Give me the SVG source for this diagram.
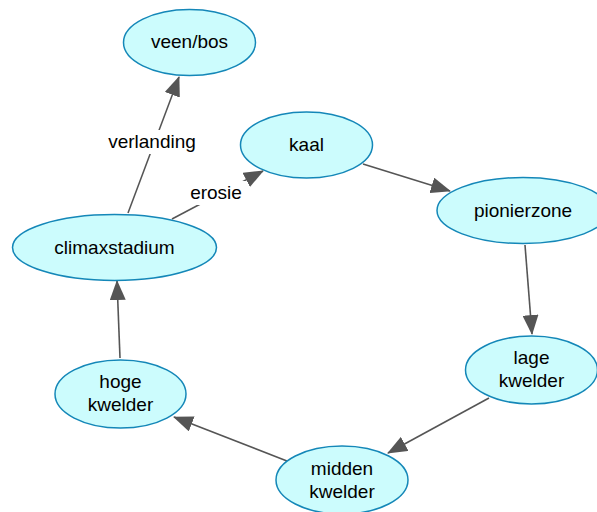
<svg xmlns="http://www.w3.org/2000/svg" width="597" height="512" viewBox="0 0 597 512">
  <style>
    .node ellipse { fill: #ccfcfd; stroke: #1487b8; stroke-width: 1.5; }
    .node text, .label { font-family: "Liberation Sans", Arial, sans-serif; font-size: 19px; fill: #000; text-anchor: middle; }
    .edge { stroke: #555; stroke-width: 1.6; fill: none; }
    .lbg { fill: #fff; }
  </style>
  <defs>
    <marker id="arrow" viewBox="0 0 20 16" refX="19" refY="8" markerWidth="20" markerHeight="16" markerUnits="userSpaceOnUse" orient="auto">
      <path d="M0,0 L20,8 L0,16 Z" fill="#555"/>
    </marker>
  </defs>
  <rect width="597" height="512" fill="#fff"/>

  <g id="connectors">
    <line class="edge" x1="128" y1="213" x2="179" y2="77" marker-end="url(#arrow)"/>
    <line class="edge" x1="172" y1="219" x2="263" y2="171" marker-end="url(#arrow)"/>
    <line class="edge" x1="363" y1="164" x2="450" y2="191" marker-end="url(#arrow)"/>
    <line class="edge" x1="525" y1="245" x2="532" y2="334" marker-end="url(#arrow)"/>
    <line class="edge" x1="489" y1="398" x2="388" y2="453" marker-end="url(#arrow)"/>
    <line class="edge" x1="287" y1="461" x2="174" y2="417" marker-end="url(#arrow)"/>
    <line class="edge" x1="120" y1="358" x2="117" y2="281" marker-end="url(#arrow)"/>
    <rect class="lbg" x="104" y="130" width="96" height="24"/>
    <text class="label" x="152" y="148">verlanding</text>
    <rect class="lbg" x="186" y="181" width="60" height="24"/>
    <text class="label" x="216" y="199">erosie</text>
  </g>

  <g id="veen-bos" class="node">
    <ellipse cx="189.5" cy="42.5" rx="66" ry="33"/>
    <text x="189.5" y="48">veen/bos</text>
  </g>
  <g id="kaal" class="node">
    <ellipse cx="306.5" cy="145" rx="66" ry="33"/>
    <text x="306.5" y="151">kaal</text>
  </g>
  <g id="pionierzone" class="node">
    <ellipse cx="523" cy="210.5" rx="86" ry="33"/>
    <text x="523" y="217">pionierzone</text>
  </g>
  <g id="climaxstadium" class="node">
    <ellipse cx="114.5" cy="247.5" rx="102" ry="33"/>
    <text x="114.5" y="254">climaxstadium</text>
  </g>
  <g id="lage-kwelder" class="node">
    <ellipse cx="531.5" cy="370" rx="66" ry="34"/>
    <text x="531.5" y="364">lage</text>
    <text x="531.5" y="387">kwelder</text>
  </g>
  <g id="midden-kwelder" class="node">
    <ellipse cx="342" cy="480" rx="66" ry="34"/>
    <text x="342" y="475">midden</text>
    <text x="342" y="498">kwelder</text>
  </g>
  <g id="hoge-kwelder" class="node">
    <ellipse cx="120.5" cy="394" rx="65.5" ry="34"/>
    <text x="120.5" y="388">hoge</text>
    <text x="120.5" y="411">kwelder</text>
  </g>
</svg>
